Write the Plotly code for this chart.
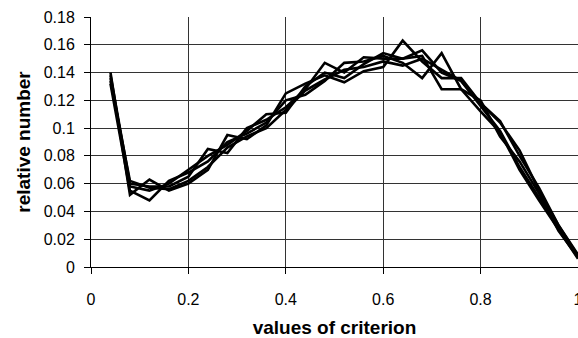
import plotly.graph_objects as go

x_vals = [0.04, 0.08, 0.12, 0.16, 0.20, 0.24, 0.28, 0.32, 0.36, 0.40, 0.44, 0.48, 0.52,
          0.56, 0.60, 0.64, 0.68, 0.72, 0.76, 0.80, 0.84, 0.88, 0.92, 0.96, 1.00]

series_1 = [0.140, 0.052, 0.063, 0.055, 0.060, 0.070, 0.095, 0.092, 0.102, 0.125, 0.132, 0.138, 0.133,
            0.141, 0.144, 0.163, 0.148, 0.136, 0.136, 0.118, 0.104, 0.084, 0.055, 0.030, 0.008]
series_2 = [0.138, 0.060, 0.058, 0.058, 0.065, 0.085, 0.082, 0.100, 0.106, 0.115, 0.128, 0.147, 0.140,
            0.151, 0.150, 0.150, 0.156, 0.140, 0.134, 0.116, 0.098, 0.072, 0.050, 0.028, 0.008]
series_3 = [0.132, 0.055, 0.048, 0.062, 0.068, 0.076, 0.090, 0.096, 0.104, 0.120, 0.124, 0.134, 0.147,
            0.148, 0.152, 0.147, 0.136, 0.154, 0.128, 0.120, 0.094, 0.076, 0.053, 0.026, 0.007]
series_4 = [0.136, 0.058, 0.055, 0.060, 0.070, 0.080, 0.088, 0.098, 0.110, 0.111, 0.130, 0.140, 0.136,
            0.146, 0.154, 0.150, 0.152, 0.128, 0.128, 0.112, 0.097, 0.070, 0.048, 0.027, 0.006]
series_5 = [0.134, 0.062, 0.057, 0.056, 0.062, 0.072, 0.086, 0.094, 0.100, 0.113, 0.127, 0.135, 0.142,
            0.144, 0.148, 0.145, 0.150, 0.142, 0.134, 0.118, 0.105, 0.080, 0.057, 0.030, 0.009]

x_ticks = [0, 0.2, 0.4, 0.6, 0.8, 1]
x_tick_labels = ["0", "0.2", "0.4", "0.6", "0.8", "1"]

x_title = "values of criterion"
y_title = "relative number"

fig = go.Figure()
for s in [series_1, series_2, series_3, series_4, series_5]:
    fig.add_trace(go.Scatter(x=x_vals, y=s, mode="lines",
                             line=dict(color="black", width=2.6), showlegend=False))

font_family = "Liberation Sans, Arial, sans-serif"
fig.update_layout(
    width=578, height=338,
    margin=dict(l=91, r=0, t=17, b=71, autoexpand=False),
    paper_bgcolor="white", plot_bgcolor="white",
    font=dict(family=font_family, size=16, color="black"),
)
fig.update_xaxes(
    range=[0, 1], tickmode="array", tickvals=x_ticks, ticktext=x_tick_labels,
    showgrid=True, gridcolor="#333", gridwidth=1,
    showline=True, linecolor="black", linewidth=1,
    ticks="outside", ticklen=6, tickcolor="black",
    ticklabelstandoff=12, ticklabeloverflow="allow", automargin=False,
    zeroline=False,
    title=dict(text="<b>" + x_title + "</b>", font=dict(size=19), standoff=13),
)
fig.update_yaxes(
    range=[0, 0.18], dtick=0.02, tick0=0,
    showgrid=True, gridcolor="#333", gridwidth=1,
    showline=True, linecolor="black", linewidth=1,
    ticks="outside", ticklen=6, tickcolor="black",
    ticklabelstandoff=6,
    zeroline=False,
    title=dict(text="<b>" + y_title + "</b>", font=dict(size=19), standoff=8),
)

fig.write_html("out.html")
